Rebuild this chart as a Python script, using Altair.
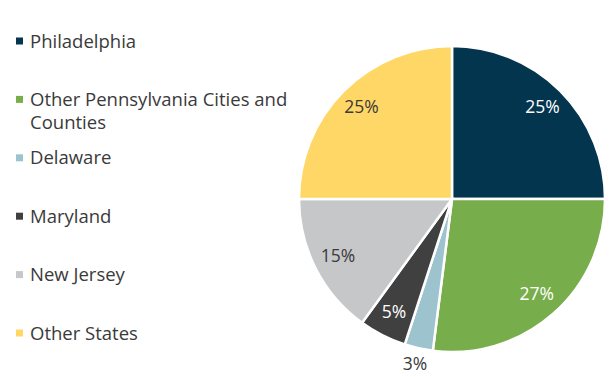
import altair as alt
import pandas as pd

categories = ["Philadelphia", "Other Pennsylvania Cities and Counties", "Delaware",
              "Maryland", "New Jersey", "Other States"]
legend_labels = ["Philadelphia", "Other Pennsylvania Cities and\nCounties", "Delaware",
                 "Maryland", "New Jersey", "Other States"]
values = [25, 27, 3, 5, 15, 25]
colors = ["#03354F", "#78AD4B", "#9DC3CF", "#404040", "#C6C7C9", "#FED766"]

df = pd.DataFrame({
    "cat": categories,
    "legend": legend_labels,
    "value": values,
    "idx": list(range(len(categories))),
    "label": [f"{v}%" for v in values],
})

FONT = "Open Sans"
base = alt.Chart(df)

color = alt.Color("cat:N", scale=alt.Scale(domain=categories, range=colors), legend=None)

pie = base.mark_arc(outerRadius=153, stroke="white", strokeWidth=2.5).encode(
    theta=alt.Theta("value:Q", stack=True),
    order=alt.Order("idx:Q"),
    color=color,
    x=alt.value(452), y=alt.value(199),
)

inner = base.mark_text(radius=128, fontSize=17.5, font=FONT).encode(
    theta=alt.Theta("value:Q", stack=True),
    order=alt.Order("idx:Q"),
    text=alt.condition("datum.value >= 4", alt.Text("label:N"), alt.value("")),
    color=alt.condition("datum.idx <= 1 || datum.idx == 3", alt.value("white"), alt.value("#3a3a3a")),
    x=alt.value(452), y=alt.value(199),
)

outer = base.mark_text(radius=170, fontSize=17.5, font=FONT, color="#3a3a3a").encode(
    theta=alt.Theta("value:Q", stack=True),
    order=alt.Order("idx:Q"),
    text=alt.condition("datum.value < 4", alt.Text("label:N"), alt.value("")),
    x=alt.value(452), y=alt.value(199),
)

ypos = alt.Y("cat:N", scale=alt.Scale(type="point", domain=categories, range=[41, 333], padding=0), axis=None)

squares = base.mark_square(size=49, opacity=1).encode(
    x=alt.value(19.5), y=ypos, color=color,
)

ltext = base.mark_text(align="left", baseline="alphabetic", dy=6.5, fontSize=18.5,
                       font=FONT, color="#3a3a3a", lineBreak="\n", lineHeight=23).encode(
    x=alt.value(30), y=ypos, text="legend:N",
)

chart = alt.layer(pie, inner, outer, squares, ltext).properties(
    width=613, height=377, padding=0, autosize="none"
).configure_view(strokeWidth=0)

chart.save("out.html", embed_options={"renderer": "svg", "actions": False})
